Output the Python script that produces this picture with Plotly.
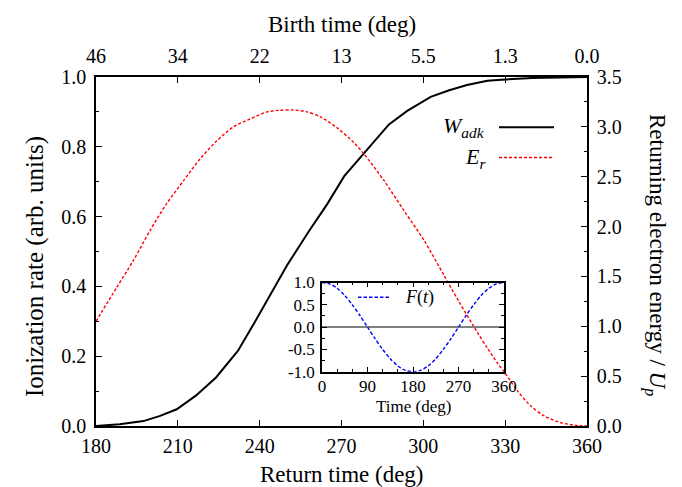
import plotly.graph_objects as go

# ---------------- data ----------------
return_time_w = [180, 188.7, 197.4, 203.5, 209.6, 216.6, 224.0, 232.0, 237.8, 243.9,
                 250.0, 257.8, 264.7, 271.0, 278.2, 287.4, 294.1, 302.7, 309.5, 316.0,
                 323.5, 330.0, 340.0, 350.0, 360.0]
w_adk = [0.0, 0.005, 0.014, 0.029, 0.048, 0.087, 0.139, 0.215, 0.292, 0.378,
         0.460, 0.555, 0.635, 0.716, 0.780, 0.864, 0.903, 0.943, 0.962, 0.977,
         0.989, 0.993, 0.997, 0.999, 1.0]

return_time_e = [180, 187.6, 193.7, 199.8, 205.9, 212.1, 218.2, 224.3, 230.4, 236.5,
                 242.7, 247.0, 251.8, 257.0, 262.3, 268.4, 274.6, 278.2, 285.6, 292.9,
                 300.3, 307.6, 313.0, 319.9, 323.5, 327.2, 329.7, 334.6, 339.4, 344.4,
                 350.5, 356.6, 360]
e_r = [1.05, 1.39, 1.66, 1.96, 2.23, 2.46, 2.68, 2.86, 3.00, 3.08,
       3.15, 3.165, 3.17, 3.153, 3.10, 2.99, 2.84, 2.73, 2.46, 2.16,
       1.86, 1.51, 1.25, 0.935, 0.78, 0.63, 0.54, 0.35, 0.20, 0.10,
       0.033, 0.004, 0.0]

inset_time = [0, 15, 30, 45, 60, 75, 90, 105, 120, 135, 150, 165, 180,
              195, 210, 225, 240, 255, 270, 285, 300, 315, 330, 345, 360]
field = [1.0, 0.97, 0.87, 0.71, 0.50, 0.26, 0.0, -0.26, -0.50, -0.71, -0.87, -0.97, -1.0,
         -0.97, -0.87, -0.71, -0.50, -0.26, 0.0, 0.26, 0.50, 0.71, 0.87, 0.97, 1.0]

return_ticks = [180, 210, 240, 270, 300, 330, 360]
birth_labels = ["46", "34", "22", "13", "5.5", "1.3", "0.0"]
inset_yticks = [-1.0, -0.5, 0.0, 0.5, 1.0]
inset_ylabels = ["-1.0", "-0.5", "0.0", "0.5", "1.0"]

FONT = "Times New Roman, Liberation Serif, Tinos, DejaVu Serif, serif"

# ---------------- geometry helpers (plot area in pixels) ----------------
W, H = 682, 487
L, R, T, B = 88, 579, 69, 418
def px(x):
    return (x - L) / (R - L)
def py(y):
    return (B - y) / (B - T)

fig = go.Figure()

fig.add_trace(go.Scatter(x=return_time_w, y=w_adk, mode="lines",
                         line=dict(color="black", width=2),
                         xaxis="x", yaxis="y", showlegend=False))
fig.add_trace(go.Scatter(x=return_time_e, y=e_r, mode="lines",
                         line=dict(color="#ff0000", width=1.4, dash="3px,2px",
                                   shape="spline", smoothing=0.8),
                         xaxis="x2", yaxis="y2", showlegend=False))
fig.add_trace(go.Scatter(x=inset_time, y=field, mode="lines",
                         line=dict(color="#0000ff", width=1.4, dash="3.5px,2px",
                                   shape="spline", smoothing=0.8),
                         xaxis="x3", yaxis="y3", showlegend=False))

axis_common = dict(showline=True, linecolor="black", linewidth=1.5,
                   ticks="inside", tickcolor="black", tickwidth=1.2,
                   showgrid=False, zeroline=False,
                   tickfont=dict(family=FONT, size=20, color="black"))

fig.update_layout(
    width=W, height=H,
    margin=dict(l=L, r=W - R, t=T, b=H - B),
    paper_bgcolor="white", plot_bgcolor="rgba(0,0,0,0)",
    showlegend=False,
    font=dict(family=FONT, color="black"),
    xaxis=dict(range=[180, 360], tickvals=return_ticks, ticklen=6, anchor="y",
               ticklabelstandoff=1, **axis_common),
    xaxis2=dict(range=[180, 360], tickvals=return_ticks, ticktext=birth_labels,
                overlaying="x", side="top", anchor="y", ticklen=6,
                ticklabelstandoff=4, **axis_common),
    yaxis=dict(range=[0, 1], dtick=0.2, tick0=0, tickformat=".1f", ticklen=6,
               minor=dict(dtick=0.1, ticks="inside", ticklen=3.5, tickcolor="black",
                          tickwidth=1.2),
               ticklabelstandoff=4, **axis_common),
    yaxis2=dict(range=[0, 3.5], dtick=0.5, tick0=0, tickformat=".1f", ticklen=6,
                overlaying="y", side="right", anchor="x",
                minor=dict(dtick=0.25, ticks="inside", ticklen=3.5, tickcolor="black",
                           tickwidth=1.2),
                ticklabelstandoff=4, **axis_common),
    xaxis3=dict(domain=[px(314), px(496)], anchor="y3", range=[0, 360],
                tickvals=[0, 90, 180, 270, 360], ticklen=5,
                minor=dict(dtick=30, ticks="inside", ticklen=3, tickcolor="black",
                           tickwidth=1),
                showline=True, linecolor="black", linewidth=1.5, mirror="allticks",
                ticks="inside", tickcolor="black", tickwidth=1, showgrid=False,
                zeroline=False, ticklabelstandoff=-2,
                tickfont=dict(family=FONT, size=17, color="black")),
    yaxis3=dict(domain=[py(363.7), py(274.5)], anchor="x3", range=[-1, 1],
                tickvals=inset_yticks, ticktext=inset_ylabels, ticklen=5,
                minor=dict(dtick=0.25, ticks="inside", ticklen=3, tickcolor="black",
                           tickwidth=1),
                showline=True, linecolor="black", linewidth=1.5, mirror="allticks",
                ticks="inside", tickcolor="black", tickwidth=1, showgrid=False,
                zeroline=True, zerolinecolor="#808080", zerolinewidth=2,
                ticklabelstandoff=2,
                tickfont=dict(family=FONT, size=17, color="black")),
)

ann = []
def text(x, y, s, size, angle=0, xanchor="center", yanchor="middle"):
    ann.append(dict(x=x, y=y, xref="paper", yref="paper", text=s, showarrow=False,
                    textangle=angle, xanchor=xanchor, yanchor=yanchor,
                    font=dict(family=FONT, size=size, color="black")))

text(px(333.5), py(466), "Return time (deg)", 23)
text(px(333.5), py(16), "Birth time (deg)", 23)
text(px(27), py(259), "Ionization rate (arb. units)", 25, angle=-90)
text(px(648), py(247), "Returning electron energy / <i>U</i><sub><i>p</i></sub>", 23, angle=90)
text(px(405), py(398), "Time (deg)", 17)
text(px(479), py(119.3), "<i>W</i><sub><i>adk</i></sub>", 22, xanchor="right")
text(px(480), py(150), "<i>E</i><sub><i>r</i></sub>", 22, xanchor="right")
text(px(395), py(289.3), "<i>F</i>(<i>t</i>)", 18, xanchor="left")
fig.update_layout(annotations=ann)

shapes = [
    dict(type="line", xref="paper", yref="paper", x0=px(491), x1=px(546),
         y0=py(119.3), y1=py(119.3), line=dict(color="black", width=2)),
    dict(type="line", xref="paper", yref="paper", x0=px(491), x1=px(546),
         y0=py(149.5), y1=py(149.5), line=dict(color="#ff0000", width=1.4, dash="3px,2px")),
    dict(type="line", xref="paper", yref="paper", x0=px(350), x1=px(383),
         y0=py(289.3), y1=py(289.3), line=dict(color="#0000ff", width=1.4, dash="3.5px,2px")),
]
fig.update_layout(shapes=shapes)

fig.write_html("out.html")
